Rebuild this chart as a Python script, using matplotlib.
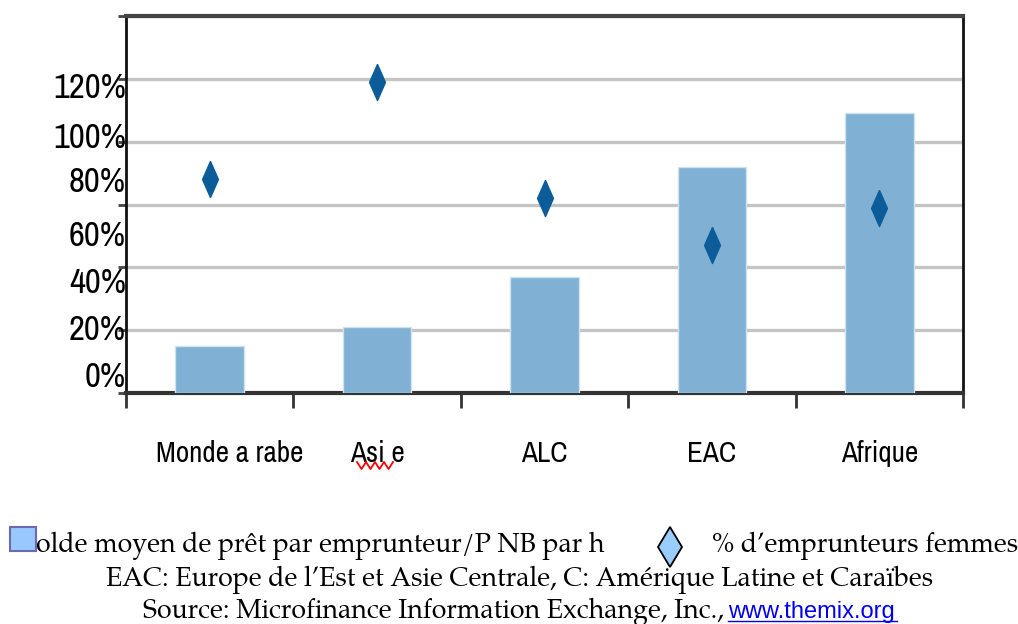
import numpy as np
import matplotlib.pyplot as plt
from matplotlib.path import Path
from matplotlib.patches import Rectangle, Polygon
from matplotlib.transforms import ScaledTranslation

# données
regions = ['Monde a rabe', 'Asi e', 'ALC', 'EAC', 'Afrique']
solde_pnb = [15, 21, 37, 72, 89]          # solde moyen / PNB par habitant (%)
femmes = [68, 99, 62, 47, 59]             # % d'emprunteurs femmes
y_labels = ['120%', '100%', '80%', '60%', '40%', '20%', '0%']
y_label_pos = [98, 82, 68, 51, 36, 21, 6]

narrow = ['Arial Narrow', 'Liberation Sans Narrow', 'Archivo Narrow', 'DejaVu Sans']
serif = ['Palatino Linotype', 'TeX Gyre Pagella', 'P052', 'Liberation Serif', 'DejaVu Serif']

W, H = 1018, 624
fig = plt.figure(figsize=(W / 100, H / 100), dpi=100)
fig.patch.set_facecolor('white')


def px(x, y):
    return x / W, 1 - y / H


ax = fig.add_axes([126 / W, 1 - 393 / H, (963 - 126) / W, (393 - 16) / H])

x = np.arange(len(regions))
ax.bar(x, solde_pnb, width=0.41, color='#80b0d4', edgecolor='#cfe2ef',
       linewidth=1, zorder=3)

# losange étroit pour le % de femmes
diamond = Path([(0, 1), (0.44, 0), (0, -1), (-0.44, 0), (0, 1)])
ax.plot(x, femmes, linestyle='none', marker=diamond, markersize=26,
        color='#0b5c99', markeredgecolor='#0b5c99', zorder=4)

ax.set_xlim(-0.5, len(regions) - 0.5)
ax.set_ylim(0, 120)

# grille et graduations
ax.set_yticks(np.arange(0, 121, 20))
ax.set_yticklabels([])
ax.yaxis.grid(True, color='#c4c4c4', linewidth=2.4, zorder=0)
ax.set_axisbelow(True)
ax.tick_params(axis='y', which='major', direction='out', length=6,
               width=2, color='#444444')

ax.set_yticks(y_label_pos, minor=True)
ax.set_yticklabels(y_labels, minor=True, family=narrow, fontsize=25)
ax.tick_params(axis='y', which='minor', length=0, pad=0)

ax.set_xticks(np.arange(-0.5, len(regions)), minor=False)
ax.set_xticklabels([])
ax.tick_params(axis='x', which='major', direction='out', length=11,
               width=2, color='#333333')
ax.set_xticks(x, minor=True)
ax.set_xticklabels(regions, minor=True, family=narrow, fontsize=21)
ax.tick_params(axis='x', which='minor', length=0, pad=34)
# le premier libellé est décalé vers la droite
first = ax.get_xticklabels(minor=True)[0]
first.set_transform(first.get_transform() + ScaledTranslation(0.2, 0, fig.dpi_scale_trans))

for side in ['left', 'right']:
    ax.spines[side].set_linewidth(2)
    ax.spines[side].set_color('#111111')
ax.spines['bottom'].set_linewidth(3)
ax.spines['bottom'].set_color('#333333')
ax.spines['top'].set_linewidth(3)
ax.spines['top'].set_color('#444444')

# soulignement rouge du correcteur sous "Asi"
sx = np.linspace(357, 393, 9)
sy = np.where(np.arange(9) % 2 == 0, 462, 469)
fx, fy = zip(*[px(a, b) for a, b in zip(sx, sy)])
fig.add_artist(plt.Line2D(fx, fy, color='red', linewidth=1.3))

# légende et notes
fs = 19.2
fig.text(*px(22, 552), 'Solde moyen de prêt par emprunteur/P NB par h',
         family=serif, fontsize=fs, va='baseline', ha='left')
fig.add_artist(Rectangle(px(10, 551), 26 / W, 24 / H, transform=fig.transFigure,
                         facecolor='#99c8ff', edgecolor='#6a6ab0', linewidth=1.5,
                         zorder=5))
cx, cy = 670, 547
fig.add_artist(Polygon([px(cx, cy - 20), px(cx + 12, cy), px(cx, cy + 20), px(cx - 12, cy)],
                       closed=True, transform=fig.transFigure,
                       facecolor='#99ccff', edgecolor='black', linewidth=1.3, zorder=5))
fig.text(*px(712, 552), '% d’emprunteurs femmes', family=serif, fontsize=fs,
         va='baseline', ha='left')
fig.text(*px(520, 586), 'EAC: Europe de l’Est et Asie Centrale, C: Amérique Latine et Caraïbes',
         family=serif, fontsize=fs, va='baseline', ha='center')
fig.text(*px(724, 618), 'Source: Microfinance Information Exchange, Inc.,',
         family=serif, fontsize=fs, va='baseline', ha='right')
fig.text(*px(728, 618), 'www.themix.org', family=['Liberation Sans', 'DejaVu Sans'],
         fontsize=17, va='baseline', ha='left', color='#0000ee')
fig.add_artist(plt.Line2D([728 / W, 897 / W], [1 - 621 / H, 1 - 621 / H],
                          color='#0000ee', linewidth=1))

fig.savefig('out.png', dpi=100, facecolor='white')
